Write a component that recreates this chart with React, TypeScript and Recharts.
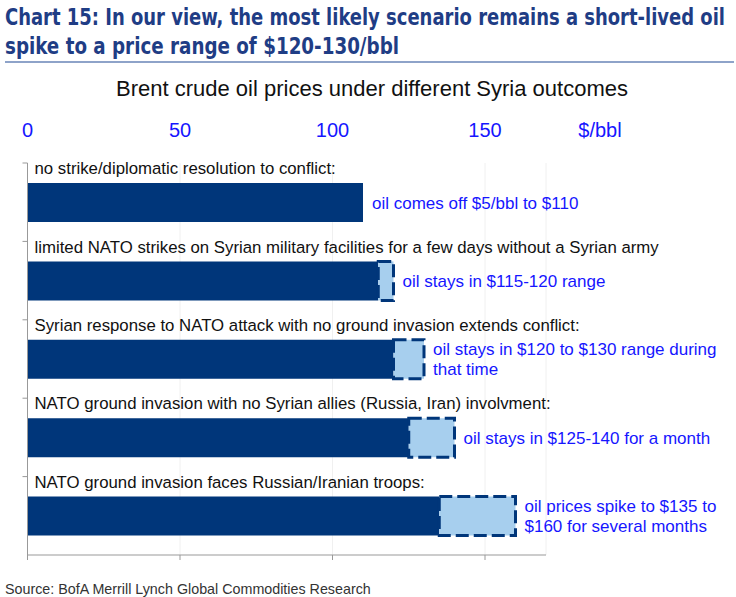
import React from 'react';
import { BarChart, Bar, XAxis, YAxis, CartesianGrid, LabelList } from 'recharts';

const scenarios = [
  'no strike/diplomatic resolution to conflict:',
  'limited NATO strikes on Syrian military facilities for a few days without a Syrian army',
  'Syrian response to NATO attack with no ground invasion extends conflict:',
  'NATO ground invasion with no Syrian allies (Russia, Iran) involvment:',
  'NATO ground invasion faces Russian/Iranian troops:',
];
const basePrice = [110, 115, 120, 125, 135];
const rangeWidth = [0, 5, 10, 15, 25];
const annotations = [
  ['oil comes off $5/bbl to $110'],
  ['oil stays in $115-120 range'],
  ['oil stays in $120 to $130 range during', 'that time'],
  ['oil stays in $125-140 for a month'],
  ['oil prices spike to $135 to', '$160 for several months'],
];
const priceTicks = [0, 50, 100, 150];

const W = 736;
const H = 597;
const PLOT_TOP = 163;
const PLOT_BOTTOM = 555;
const BAND = (PLOT_BOTTOM - PLOT_TOP) / scenarios.length;

const NAVY = '#00367a';
const LIGHT = '#a7cfee';
const BLUE = '#1616ff';
const FONT = "'Liberation Sans', Arial, sans-serif";
const TITLE_SQUEEZE = 0.86;

const data = scenarios.map((name, i) => ({
  name,
  base: basePrice[i],
  range: rangeWidth[i],
}));

const CategoryTick = (props: any) => {
  const { x, y, payload } = props;
  return (
    <g>
      <line x1={x - 5} x2={x} y1={y - BAND / 2} y2={y - BAND / 2} stroke="#999" />
      <text x={x + 7} y={y - 28} fontSize={16.8} fill="#111" fontFamily={FONT}>
        {payload.value}
      </text>
    </g>
  );
};

const TopTick = (props: any) => {
  const { x, y, payload } = props;
  return (
    <text x={x} y={y} textAnchor="middle" fontSize={20} fill={BLUE} fontFamily={FONT}>
      {payload.value}
    </text>
  );
};

// label sits on the base bar; the end of the stack is scaled from its width
const Annotation = (props: any) => {
  const { x, y, width, height, index } = props;
  const lines = annotations[index] || [];
  const total = basePrice[index] + rangeWidth[index];
  const cx = x + (width * total) / basePrice[index] + 9;
  const cy = y + height / 2;
  return (
    <text x={cx} y={cy} fontSize={17} fill={BLUE} fontFamily={FONT}>
      {lines.map((l: string, i: number) => (
        <tspan key={i} x={cx} dy={i === 0 ? (lines.length === 1 ? 6 : -4.5) : 20.5}>
          {l}
        </tspan>
      ))}
    </text>
  );
};

export default function App() {
  return (
    <div style={{ position: 'absolute', left: 0, top: 0, width: W, height: H, background: '#fff' }}>
      <BarChart
        width={W}
        height={H}
        data={data}
        layout="vertical"
        barSize={39}
        margin={{ top: PLOT_TOP - 30, right: 190, bottom: H - PLOT_BOTTOM - 10, left: 26.5 }}
      >
        <CartesianGrid horizontal={false} stroke="#f0f0f0" />
        <XAxis
          type="number"
          domain={[0, 170]}
          ticks={priceTicks}
          height={10}
          tick={() => <g />}
          tickSize={5}
          axisLine={{ stroke: '#999' }}
          tickLine={{ stroke: '#999' }}
        />
        <XAxis
          xAxisId="top"
          orientation="top"
          type="number"
          domain={[0, 170]}
          allowDataOverflow
          ticks={priceTicks}
          height={30}
          axisLine={false}
          tickLine={false}
          tickSize={0}
          tickMargin={26}
          tick={<TopTick />}
        />
        <YAxis
          type="category"
          dataKey="name"
          width={1}
          tickSize={0}
          tickMargin={0}
          axisLine={{ stroke: '#999' }}
          tickLine={false}
          tick={<CategoryTick />}
        />
        <Bar dataKey="base" stackId="a" fill={NAVY} isAnimationActive={false}>
          <LabelList dataKey="base" content={<Annotation />} />
        </Bar>
        <Bar
          dataKey="range"
          stackId="a"
          fill={LIGHT}
          stroke={NAVY}
          strokeWidth={3}
          strokeDasharray="13 5"
          isAnimationActive={false}
        />
      </BarChart>
      <svg
        width={W}
        height={H}
        style={{ position: 'absolute', left: 0, top: 0, pointerEvents: 'none' }}
      >
        <g
          transform={`scale(${TITLE_SQUEEZE},1)`}
          fontFamily="'Liberation Sans Narrow', 'DejaVu Sans Condensed', sans-serif"
          fontWeight="bold"
          fontSize={23}
          fill="#1f3d85"
        >
          <text x={5 / TITLE_SQUEEZE} y={25} textLength={720 / TITLE_SQUEEZE} lengthAdjust="spacingAndGlyphs">
            Chart 15: In our view, the most likely scenario remains a short-lived oil
          </text>
          <text x={5 / TITLE_SQUEEZE} y={54} textLength={394 / TITLE_SQUEEZE} lengthAdjust="spacingAndGlyphs">
            spike to a price range of $120-130/bbl
          </text>
        </g>
        <line x1={5} x2={734} y1={62} y2={62} stroke="#8ea3c9" strokeWidth={2} />
        <text x={372} y={96} textAnchor="middle" fontSize={22} fill="#111" fontFamily={FONT}>
          Brent crude oil prices under different Syria outcomes
        </text>
        <text x={600} y={137} textAnchor="middle" fontSize={20} fill={BLUE} fontFamily={FONT}>
          $/bbl
        </text>
        <text x={5} y={594} fontSize={14.3} fill="#333" fontFamily={FONT}>
          Source: BofA Merrill Lynch Global Commodities Research
        </text>
      </svg>
    </div>
  );
}
